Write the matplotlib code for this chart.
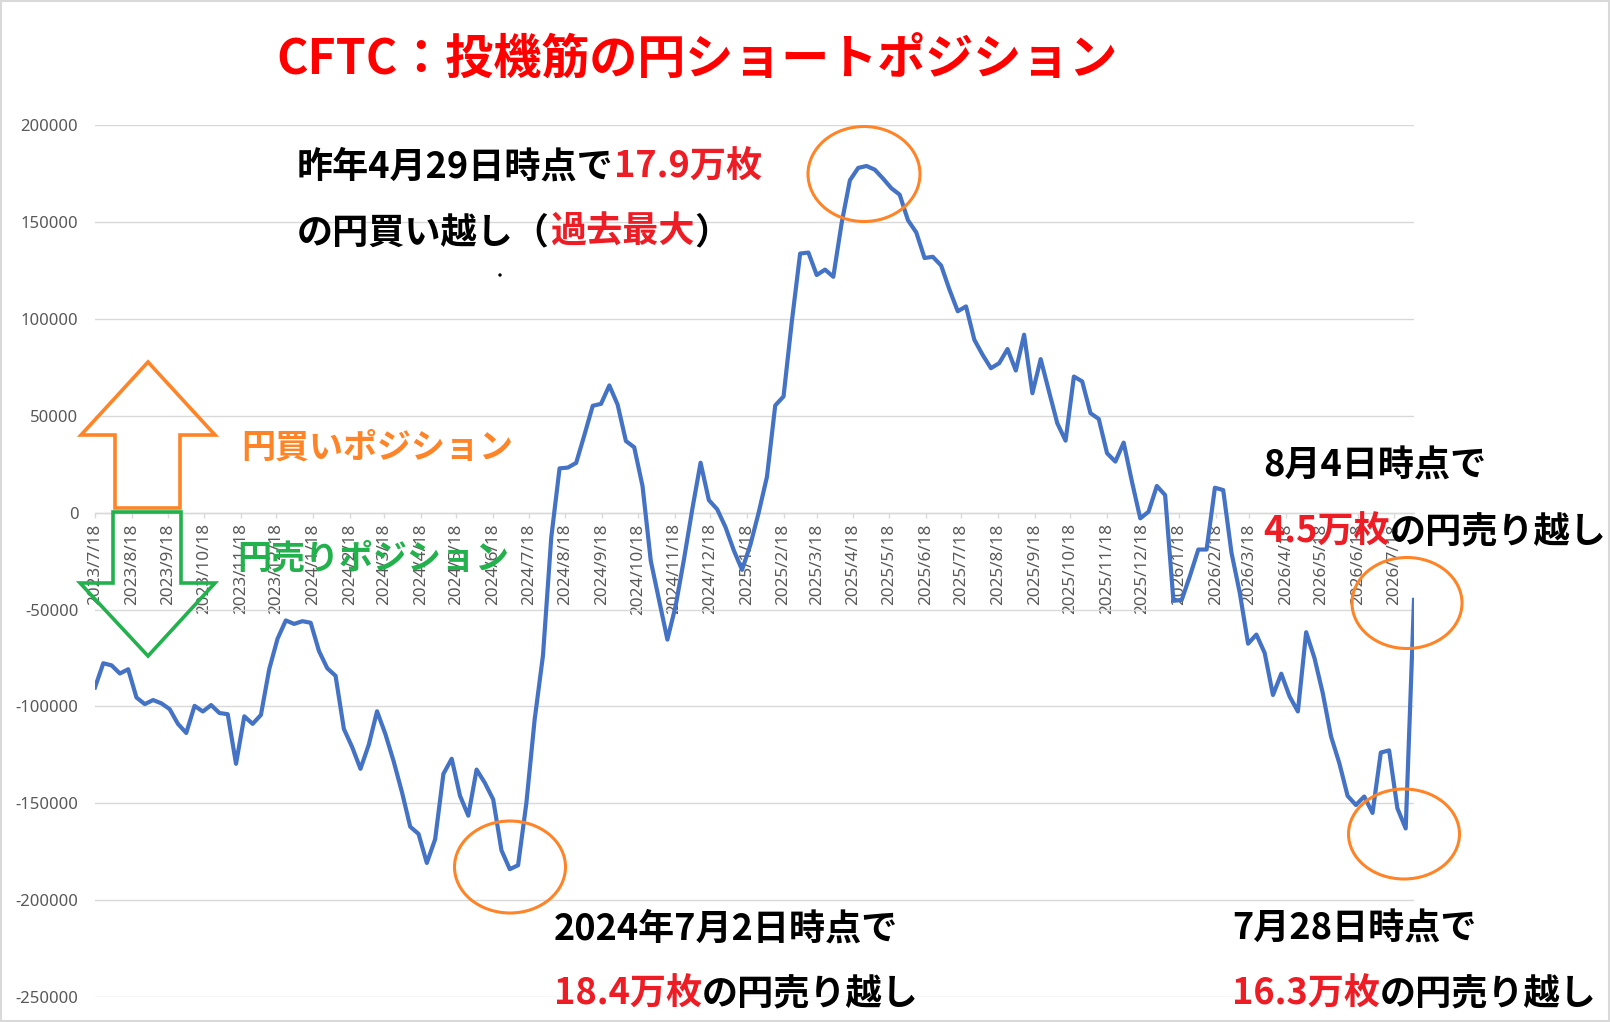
import matplotlib
matplotlib.use('Agg')
import matplotlib.pyplot as plt
import matplotlib.dates as mdates
from matplotlib.patches import Ellipse, Polygon, Rectangle
from matplotlib.ticker import FuncFormatter, MultipleLocator
import pandas as pd

plt.rcParams['font.family'] = ['Noto Sans', 'DejaVu Sans']
JP = ['Noto Sans CJK JP', 'DejaVu Sans']

W, H = 1610, 1022

# CFTC 投機筋の円ポジション（週次・火曜日）
first_week = '2023-07-18'
net_pos = [
    -90200, -77700, -78800, -83000, -80800, -95400, -98800, -96700, -98400, -101400,
    -109000, -113700, -99700, -102600, -99300, -103400, -104000, -129600, -105100, -109000,
    -104400, -80800, -65100, -55600, -57400, -56000, -56800, -71400, -80300, -84200,
    -111600, -121000, -132200, -119800, -102500, -114200, -128300, -144200, -162100, -165800,
    -180800, -168600, -134800, -127000, -146100, -156400, -132600, -139500, -148000, -174300,
    -184000, -182000, -149900, -106700, -73800, -12800, 22900, 23300, 25700, 40200,
    55200, 56200, 65700, 55800, 37000, 33800, 13800, -24900, -45200, -65500,
    -48000, -24000, 1800, 25800, 6500, 1800, -7400, -19400, -29500, -16600,
    0, 18500, 55400, 60000, 98700, 133800, 134300, 122700, 125500, 121800,
    149400, 171600, 178000, 179000, 177100, 172500, 167500, 164200, 151000, 144700,
    131500, 132100, 127600, 115200, 104000, 106500, 89300, 81500, 74600, 77200,
    84500, 73400, 91900, 61700, 79300, 62600, 46200, 37200, 70300, 67800,
    51400, 48400, 30700, 26400, 36200, 16000, -2900, 500, 13800, 9100,
    -45500, -45000, -32500, -19000, -19000, 12900, 11700, -20700, -41400, -67600,
    -62900, -72400, -94100, -83100, -94800, -102600, -61700, -75000, -93100, -115500,
    -129300, -146200, -150900, -146500, -155000, -123800, -122700, -152600, -163000, -45000,
]
dates = pd.date_range(first_week, periods=len(net_pos), freq='7D')

title = 'CFTC：投機筋の円ショートポジション'

fig = plt.figure(figsize=(W / 100, H / 100), dpi=100)
ax = fig.add_axes([95 / W, 1 - 997 / H, (1414 - 95) / W, (997 - 125.3) / H])

ax.plot(dates, net_pos, color='#4472C4', lw=3.0, zorder=3, solid_joinstyle='round')

ax.set_xlim(dates[0], dates[-1])
ax.set_ylim(-250000, 200000)
ax.yaxis.set_major_locator(MultipleLocator(50000))
ax.yaxis.set_major_formatter(FuncFormatter(lambda v, p: f'{int(round(v))}'))
ax.xaxis.set_major_locator(mdates.MonthLocator(bymonthday=18))


def fmt_date(v, p):
    d = mdates.num2date(v)
    return f'{d.year}/{d.month}/{d.day}'


ax.xaxis.set_major_formatter(FuncFormatter(fmt_date))

for s in ['top', 'right', 'left']:
    ax.spines[s].set_visible(False)
ax.spines['bottom'].set_position(('data', 0))
ax.spines['bottom'].set_color('#D9D9D9')
ax.spines['bottom'].set_linewidth(1.0)
ax.grid(axis='y', color='#D9D9D9', lw=1.0)
ax.tick_params(axis='x', direction='out', length=3.6, width=1.0, color='#D9D9D9',
               pad=4, labelsize=12.3, labelcolor='#595959', labelrotation=90)
ax.tick_params(axis='y', length=0, pad=12, labelsize=12, labelcolor='#595959')

# 枠線
fig.patches.append(Rectangle((1 / W, 1 / H), 1 - 2.5 / W, 1 - 2.5 / H, transform=fig.transFigure,
                             fill=False, ec='#D9D9D9', lw=1.5))


def fx(x):
    return x / W


def fy(y):
    return 1 - y / H


# 矢印（円買い・円売り）
up_arrow = [(148, 362), (215, 435), (180, 435), (180, 508), (115, 508), (115, 435), (81, 435)]
down_arrow = [(113, 512), (181, 512), (181, 583), (215, 583), (148, 656), (80, 583), (113, 583)]
fig.patches.append(Polygon([(fx(a), fy(b)) for a, b in up_arrow], closed=True, fill=False,
                           ec='#FF8427', lw=2.6, joinstyle='miter', transform=fig.transFigure))
fig.patches.append(Polygon([(fx(a), fy(b)) for a, b in down_arrow], closed=True, fill=False,
                           ec='#22B14C', lw=2.6, joinstyle='miter', transform=fig.transFigure))

# 丸印
for cx, cy, w, h in [(864, 174, 112, 95), (510, 867, 111, 92), (1407, 603, 110, 91), (1404, 834, 111, 90)]:
    fig.patches.append(Ellipse((fx(cx), fy(cy)), w / W, h / H, fill=False, ec='#FF8427', lw=2.2,
                               transform=fig.transFigure))

fig.patches.append(Ellipse((fx(500), fy(275)), 2 / W, 2 / H, color='black', transform=fig.transFigure))

renderer = fig.canvas.get_renderer()


def put(parts, x, y, size):
    for s, c in parts:
        t = fig.text(fx(x), fy(y), s, color=c, fontsize=size, fontweight='bold',
                     family=JP, ha='left', va='baseline')
        x = t.get_window_extent(renderer).x1


RED = '#EE1C25'
put([(title, '#FF0000')], 276, 75, 34.6)
put([('昨年4月29日時点で', 'black'), ('17.9万枚', RED)], 297, 178, 26)
put([('の円買い越し（', 'black'), ('過去最大', RED), ('）', 'black')], 297, 243, 26)
put([('円買いポジション', '#FF8427')], 241, 458, 24.5)
put([('円売りポジション', '#22B14C')], 237, 568, 24.5)
put([('2024年7月2日時点で', 'black')], 554, 940, 26)
put([('18.4万枚', RED), ('の円売り越し', 'black')], 554, 1005, 26)
put([('8月4日時点で', 'black')], 1263, 477, 26)
put([('4.5万枚', RED), ('の円売り越し', 'black')], 1263, 543, 26)
put([('7月28日時点で', 'black')], 1232, 940, 26)
put([('16.3万枚', RED), ('の円売り越し', 'black')], 1232, 1005, 26)

fig.savefig('out.png', dpi=100, facecolor='white')
